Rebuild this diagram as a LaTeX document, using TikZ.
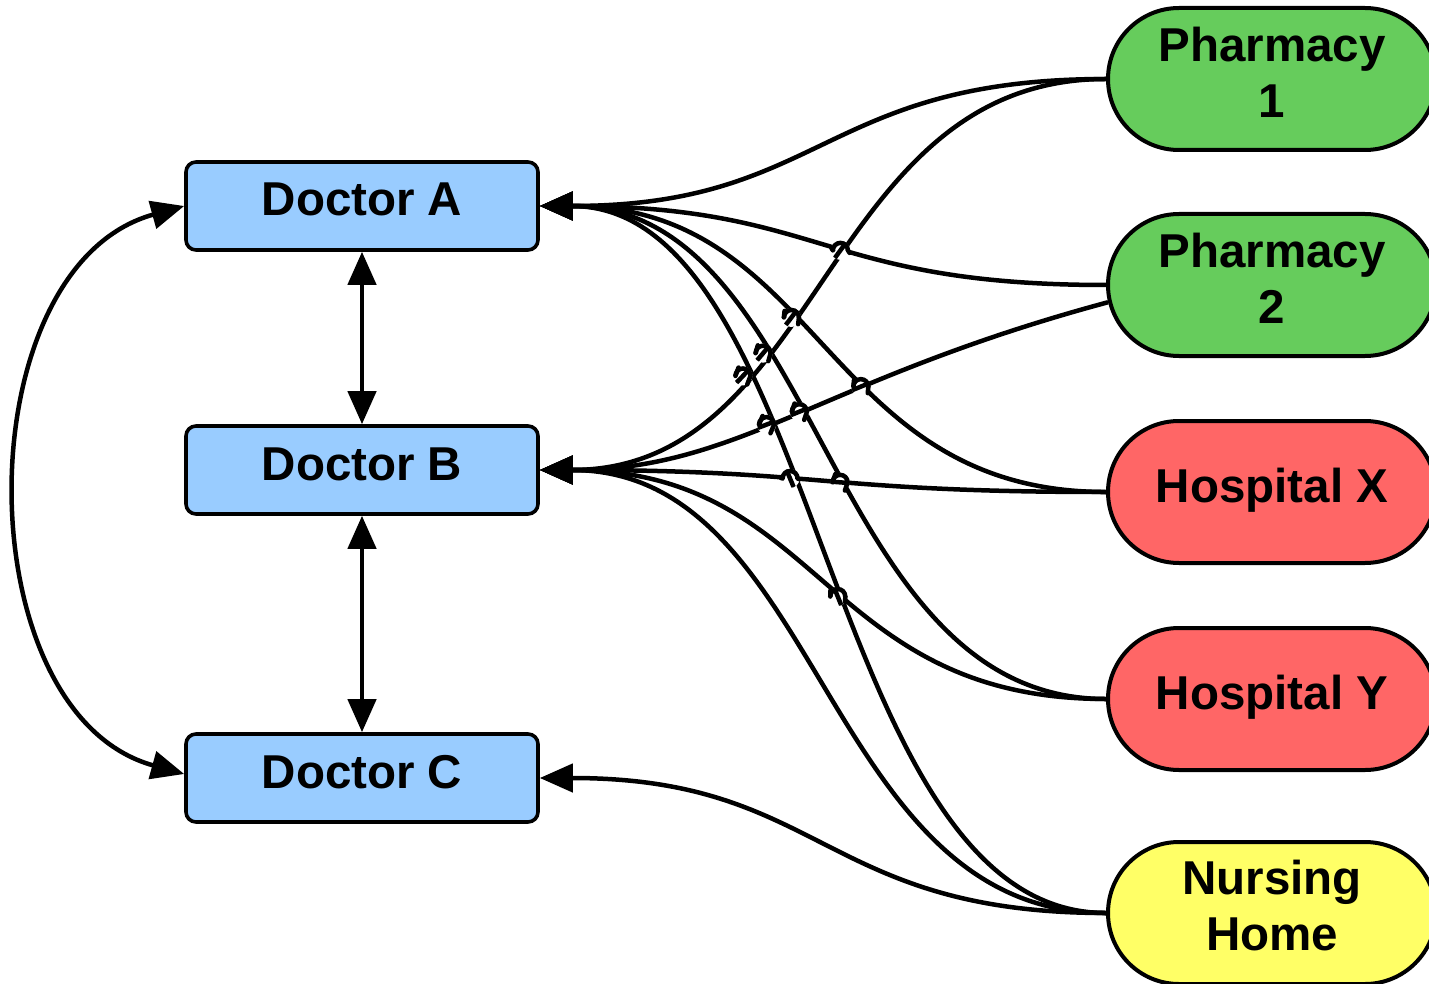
\documentclass[tikz,border=0pt]{standalone}
\usepackage{fontspec}
\setmainfont{Liberation Sans}
\usetikzlibrary{arrows.meta,shapes.misc,intersections,calc}
\definecolor{docblue}{HTML}{99CCFF}
\definecolor{phgreen}{HTML}{66CC5C}
\definecolor{hosred}{HTML}{FF6666}
\definecolor{nhyellow}{HTML}{FFFF66}
% #1 hopping path name, #2 crossed path name, #3 hopping path, #4 crossed path
\newcommand\myhop[4]{%
  \path[name intersections={of=#1 and #2, by={X#1#2}}];
  \path[name path=hc#1#2] (X#1#2) circle[radius=9.5pt];
  \path[name intersections={of=#1 and hc#1#2, sort by=#1, by={E#1#2a,E#1#2b}}];
  \fill[white] (X#1#2) circle[radius=9.5pt];
  \begin{scope}\clip (X#1#2) circle[radius=9.5pt]; \draw[conn] #4; \end{scope}
  \begin{scope}\clip ($(X#1#2)+(-15,-15)$) rectangle ($(X#1#2)+(15,0)$);
    \draw[conn] (X#1#2) circle[radius=7.5pt]; \end{scope}
  \draw[conn, line cap=round] (E#1#2b) -- ($(X#1#2)+(-7.5,0)$);
  \draw[conn, line cap=round] ($(X#1#2)+(7.5,0)$) -- (E#1#2a);%
}
\begin{document}
\begin{tikzpicture}[x=1pt,y=-1pt,
  docbox/.style={draw=black, line width=3.6pt, rounded corners=10pt, fill=docblue,
    minimum width=352pt, minimum height=88pt, inner sep=0pt},
  place/.style={draw=black, line width=4pt, rounded rectangle,
    minimum width=328pt, minimum height=142pt, inner sep=0pt},
  lbl/.style={font=\bfseries\fontsize{47.5}{56}\selectfont, inner sep=0pt,
    text height=34pt, text depth=0pt},
  lbltwo/.style={font=\bfseries\fontsize{47.5}{56}\selectfont, inner sep=0pt, align=center},
  conn/.style={line width=4.5pt, draw=black},
  tip/.style={-{Triangle[length=33pt,width=28pt]}},
  twotips/.style={{Triangle[length=33pt,width=28pt]}-{Triangle[length=33pt,width=28pt]}},
]
\fill[white] (0,0) rectangle (1429,984);
\useasboundingbox (0,0) rectangle (1429,984);

% doctors
\node[docbox] (da) at (362,206) {};
\node[docbox] (db) at (362,470) {};
\node[docbox] (dc) at (362,778) {};
\node[lbl] (dal) at ([yshift=7pt]da.center) {Doctor A};
\node[lbl] (dbl) at ([yshift=7pt]db.center) {Doctor B};
\node[lbl] (dcl) at ([yshift=7pt]dc.center) {Doctor C};

% places
\node[place, fill=phgreen] (p1) at (1272,79) {};
\node[place, fill=phgreen] (p2) at (1272,285) {};
\node[place, fill=hosred] (hx) at (1272,492) {};
\node[place, fill=hosred] (hy) at (1272,699) {};
\node[place, fill=nhyellow] (nh) at (1272,913) {};
\node[lbltwo] (p1l) at ([yshift=7pt]p1.center) {Pharmacy\\1};
\node[lbltwo] (p2l) at ([yshift=7pt]p2.center) {Pharmacy\\2};
\node[lbl] (hxl) at ([yshift=7pt]hx.center) {Hospital X};
\node[lbl] (hyl) at ([yshift=7pt]hy.center) {Hospital Y};
\node[lbltwo] (nhl) at ([yshift=7pt]nh.center) {Nursing\\Home};

% doctor links
\draw[conn, twotips] (da.south) -- (db.north);
\draw[conn, twotips] (db.south) -- (dc.north);
\draw[conn, twotips] (da.west) .. controls +(-220,61) and +(-220,-61) .. ([yshift=4pt]dc.west);

% connector paths
\def\cPoneA{(p1.west) .. controls +(-284,0) and +(284,0) .. (da.east)}
\def\cPoneB{(p1.west) .. controls +(-284,0) and +(284,0) .. (db.east)}
\def\cPtwoA{(p2.west) .. controls +(-284,0) and +(284,0) .. (da.east)}
\def\cPtwoB{(p2.186) .. controls +(-290,78) and +(200,0) .. (db.east)}
\def\cHxA{(hx.west) .. controls +(-284,0) and +(284,0) .. (da.east)}
\def\cHxB{(hx.west) .. controls +(-284,0) and +(284,0) .. (db.east)}
\def\cHyA{(hy.west) .. controls +(-284,0) and +(284,0) .. (da.east)}
\def\cHyB{(hy.west) .. controls +(-284,0) and +(284,0) .. (db.east)}
\def\cNhA{(nh.west) .. controls +(-284,0) and +(284,0) .. (da.east)}
\def\cNhB{(nh.west) .. controls +(-284,0) and +(284,0) .. (db.east)}
\def\cNhC{(nh.west) .. controls +(-284,0) and +(284,0) .. (dc.east)}

\draw[conn, tip, name path=ponea] \cPoneA;
\draw[conn, tip, name path=poneb] \cPoneB;
\draw[conn, tip, name path=ptwoa] \cPtwoA;
\draw[conn, tip, name path=ptwob] \cPtwoB;
\draw[conn, tip, name path=hxa] \cHxA;
\draw[conn, tip, name path=hxb] \cHxB;
\draw[conn, tip, name path=hya] \cHyA;
\draw[conn, tip, name path=hyb] \cHyB;
\draw[conn, tip, name path=nha] \cNhA;
\draw[conn, tip, name path=nhb] \cNhB;
\draw[conn, tip, name path=nhc] \cNhC;

% line hops
\myhop{ptwoa}{poneb}{\cPtwoA}{\cPoneB}
\myhop{hxa}{poneb}{\cHxA}{\cPoneB}
\myhop{hya}{poneb}{\cHyA}{\cPoneB}
\myhop{nha}{poneb}{\cNhA}{\cPoneB}
\myhop{hxa}{ptwob}{\cHxA}{\cPtwoB}
\myhop{hya}{ptwob}{\cHyA}{\cPtwoB}
\myhop{nha}{ptwob}{\cNhA}{\cPtwoB}
\myhop{hxb}{nha}{\cHxB}{\cNhA}
\myhop{hya}{hxb}{\cHyA}{\cHxB}
\myhop{hyb}{nha}{\cHyB}{\cNhA}
\end{tikzpicture}
\end{document}
